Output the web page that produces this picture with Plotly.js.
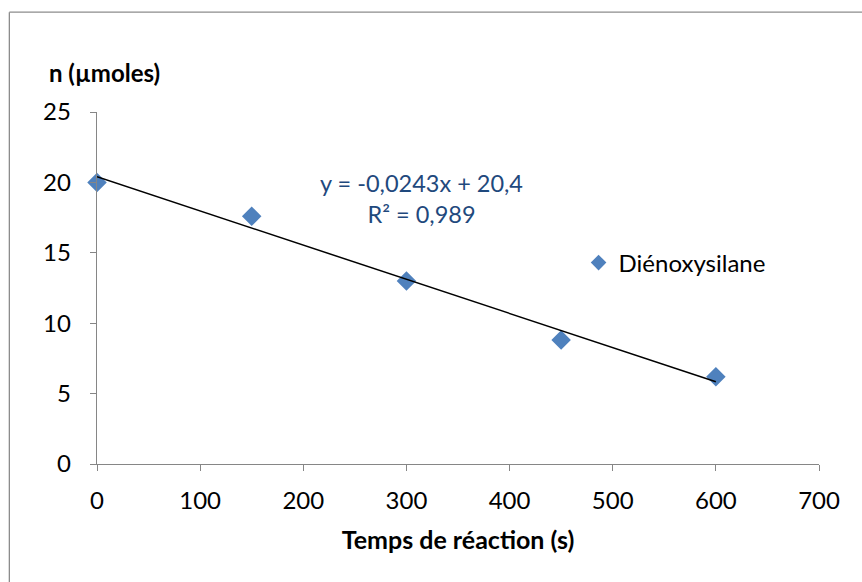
<!DOCTYPE html>
<html><head><meta charset="utf-8">
<script src="https://cdn.plot.ly/plotly-3.0.1.min.js"></script>
<style>html,body{margin:0;padding:0;background:#fff}#chart{width:862px;height:582px}</style>
</head><body><div id="chart"></div>
<script>
const seriesName = "Diénoxysilane";
const timeS = [0, 150, 300, 450, 600];
const nMicromoles = [20.0, 17.6, 13.0, 8.8, 6.2];
const xTicks = [0, 100, 200, 300, 400, 500, 600, 700];
const yTicks = [0, 5, 10, 15, 20, 25];

// linear regression (Excel trendline)
const n = timeS.length;
const mx = timeS.reduce((a,b)=>a+b,0)/n;
const my = nMicromoles.reduce((a,b)=>a+b,0)/n;
let sxy=0, sxx=0, syy=0;
for (let i=0;i<n;i++){sxy+=(timeS[i]-mx)*(nMicromoles[i]-my);sxx+=(timeS[i]-mx)**2;syy+=(nMicromoles[i]-my)**2;}
const slope = sxy/sxx, intercept = my - slope*mx, r2 = (sxy*sxy)/(sxx*syy);
const fr = (v,d)=>v.toFixed(d).replace('.',',');
const fitX = [timeS[0], timeS[n-1]];
const fitY = fitX.map(x=>slope*x+intercept);
const eqText = "y = " + fr(slope,4) + "x + " + fr(intercept,1) + "<br>R² = " + fr(r2,3);

const FONT = "Lato, 'Open Sans', sans-serif";
const axisColor = "#868686";

const traces = [
  {x: timeS, y: nMicromoles, type:"scatter", mode:"markers", name: seriesName,
   marker:{symbol:"diamond", size:15, color:"#4F81BD"}, cliponaxis:false},
  {x: fitX, y: fitY, type:"scatter", mode:"lines", showlegend:false, hoverinfo:"skip",
   line:{color:"#000000", width:1.5}}
];

const layout = {
  width:862, height:582,
  margin:{l:96.7, r:42.7, t:111.7, b:117.7},
  paper_bgcolor:"#fff", plot_bgcolor:"#fff",
  font:{family:FONT, size:24, color:"#000"},
  showlegend:true,
  legend:{x:0.667, y:0.571, xanchor:"left", yanchor:"middle", bgcolor:"rgba(0,0,0,0)",
          font:{size:24}, itemsizing:"constant", itemwidth:30},
  xaxis:{range:[0,700], tickvals:xTicks, showgrid:false, zeroline:false,
         showline:true, linecolor:axisColor, linewidth:1.3, ticks:"outside", ticklen:6, tickcolor:axisColor,
         ticklabelstandoff:9,
         title:{text:"<b>Temps de réaction (s)</b>", font:{size:25}, standoff:18}},
  yaxis:{range:[0,25], tickvals:yTicks, showgrid:false, zeroline:false,
         showline:true, linecolor:axisColor, linewidth:1.3, ticks:"outside", ticklen:6, tickcolor:axisColor,
         ticklabelstandoff:14},
  annotations:[
    {xref:"paper", yref:"paper", x:-0.0692, y:1.1134, xanchor:"left", yanchor:"middle",
     text:"<b>n (µmoles)</b>", showarrow:false, font:{size:24}},
    {xref:"x", yref:"y", x:314.8, y:18.88, xanchor:"center", yanchor:"middle",
     text:eqText, showarrow:false, font:{size:23.5, color:"#1F497D"}}
  ],
  shapes:[
    {type:"line", xref:"paper", yref:"paper", x0:-0.1214, x1:-0.1214, y0:-1.2, y1:1.2837,
     line:{color:"#8C8C8C", width:1.3}, layer:"below"},
    {type:"line", xref:"paper", yref:"paper", x0:-0.1214, x1:1.5, y0:1.2837, y1:1.2837,
     line:{color:"#8C8C8C", width:1.3}, layer:"below"}
  ]
};
Plotly.newPlot("chart", traces, layout, {staticPlot:true, displayModeBar:false});
</script></body></html>
